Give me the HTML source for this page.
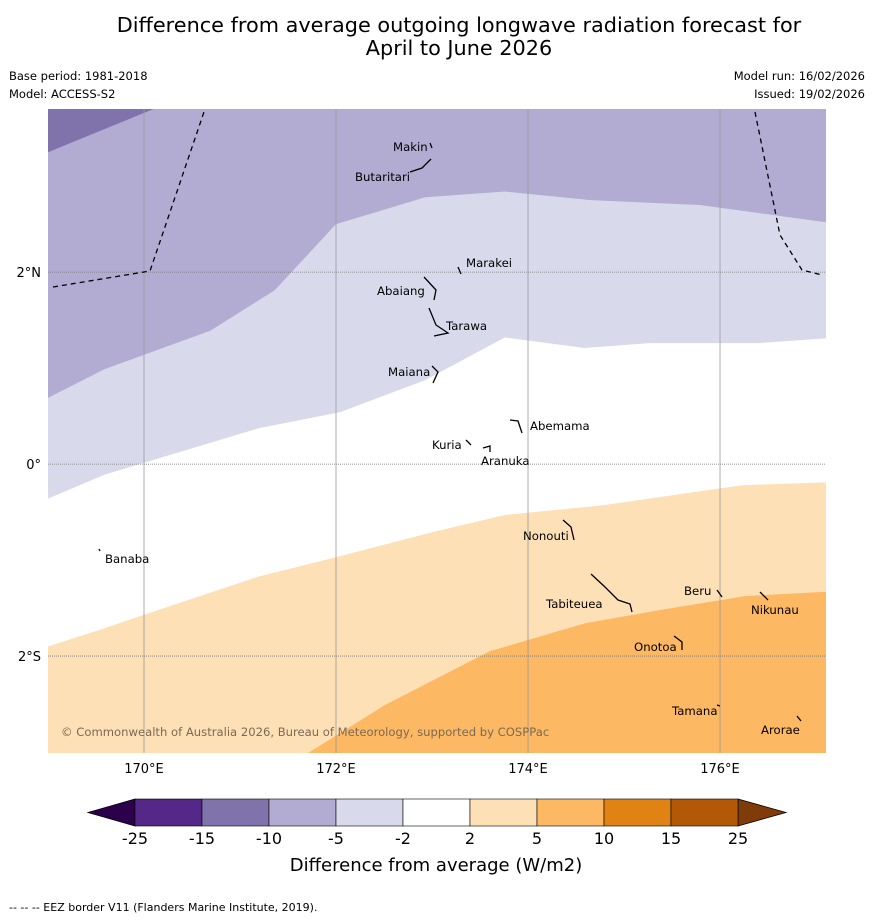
<!DOCTYPE html>
<html><head><meta charset="utf-8"><style>
body{margin:0;background:#fff;font-family:"Liberation Sans","DejaVu Sans",sans-serif;}
svg text{font-family:"DejaVu Sans","Liberation Sans",sans-serif;}
</style></head><body>
<svg id="c" width="873" height="919" xmlns="http://www.w3.org/2000/svg">
<text x="459" y="32" font-size="20.8" text-anchor="middle">Difference from average outgoing longwave radiation forecast for</text>
<text x="459" y="55" font-size="20.8" text-anchor="middle">April to June 2026</text>
<text x="9" y="80" font-size="11.5">Base period: 1981-2018</text>
<text x="9" y="98" font-size="11.5">Model: ACCESS-S2</text>
<text x="865" y="80" font-size="11.5" text-anchor="end">Model run: 16/02/2026</text>
<text x="865" y="98" font-size="11.5" text-anchor="end">Issued: 19/02/2026</text>
<g id="map"></g>
<g id="cb"></g>
<text x="436" y="871" font-size="18" text-anchor="middle">Difference from average (W/m2)</text>
<text x="9" y="911" font-size="11">--  --  -- EEZ border V11 (Flanders Marine Institute, 2019).</text>
</svg>
<script>
const lonMin=169, lonMax=177.104, latMax=3.7, latMin=-3.01;
const X0=48,X1=826,Y0=109,Y1=753;
const xs=lon=>X0+(lon-lonMin)/(lonMax-lonMin)*(X1-X0);
const ys=lat=>Y0+(latMax-lat)/(latMax-latMin)*(Y1-Y0);
const NS="http://www.w3.org/2000/svg";
const levels=[-25,-15,-10,-5,-2,2,5,10,15,25];
const colors=["#542788","#8073ac","#b2abd2","#d8daeb","#ffffff","#fee0b6","#fdb863","#e08214","#b35806"];
// contour boundaries (lon arrays, lat arrays)
const b15Lon=[169,170.1];const b15Lat=[3.25,3.7];
const b5Lon=[169,169.59,170.69,171.36,172,172.93,173.76,174.65,175.79,177.104];
const b5Lat=[0.69,0.99,1.39,1.81,2.5,2.78,2.84,2.75,2.7,2.52];
const b2Lon=[169,169.59,171.2,172.04,172.93,173.76,174.59,175.26,176.4,177.104];
const b2Lat=[-0.36,-0.11,0.375,0.54,0.875,1.32,1.21,1.26,1.26,1.31];
const p2Lon=[169,169.59,170.06,171.2,172.04,173.0,173.76,174.77,176.23,177.104];
const p2Lat=[-1.9,-1.71,-1.55,-1.17,-0.96,-0.71,-0.53,-0.43,-0.22,-0.19];
const p5Lon=[171.71,172.51,173.6,174.59,175.375,176.26,177.104];
const p5Lat=[-3.01,-2.51,-1.95,-1.66,-1.52,-1.375,-1.33];
const m=document.getElementById('map');
function el(tag,attrs,parent){const e=document.createElementNS(NS,tag);for(const k in attrs)e.setAttribute(k,attrs[k]);(parent||m).appendChild(e);return e;}
function pts(lo,la){return lo.map((v,i)=>xs(v)+','+ys(la[i])).join(' ');}
let e;
e=el('rect',{x:X0,y:Y0,width:X1-X0,height:Y1-Y0,fill:colors[4]});

e=el('polygon',{points:pts(b2Lon,b2Lat)+` ${X1},${Y0} ${X0},${Y0}`,fill:colors[3]});

e=el('polygon',{points:pts(b5Lon,b5Lat)+` ${X1},${Y0} ${X0},${Y0}`,fill:colors[2]});

e=el('polygon',{points:pts(b15Lon,b15Lat)+` ${X0},${Y0}`,fill:colors[1]});

e=el('polygon',{points:pts(p2Lon,p2Lat)+` ${X1},${Y1} ${X0},${Y1}`,fill:colors[5]});

e=el('polygon',{points:pts(p5Lon,p5Lat)+` ${X1},${Y1}`,fill:colors[6]});

// grid
const lonTicks=[170,172,174,176];const latTicks=[2,0,-2];const latLabels=["2°N","0°","2°S"];
lonTicks.forEach(l=>{e=el('line',{x1:xs(l),x2:xs(l),y1:Y0,y2:Y1,stroke:'#999',"stroke-width":0.8});

e=el('text',{x:xs(l),y:Y1+20,"font-size":13,"text-anchor":"middle"});e.textContent=l+'°E';
});
latTicks.forEach((l,i)=>{e=el('line',{x1:X0,x2:X1,y1:ys(l),y2:ys(l),stroke:'#777',"stroke-width":0.8,"stroke-dasharray":"1,1"});

e=el('text',{x:X0-7,y:ys(l)+5,"font-size":13,"text-anchor":"end"});e.textContent=latLabels[i];
});
// EEZ
e=el('polyline',{points:"53,287 150,271 205,109",fill:"none",stroke:"#000","stroke-width":1.3,"stroke-dasharray":"5,4"});

e=el('polyline',{points:"755,112 780,235 802,270 822,275",fill:"none",stroke:"#000","stroke-width":1.3,"stroke-dasharray":"5,4"});

// islands
const islands=[["Makin",393,151,"430,143 432,148"],["Butaritari",355,181,"410,172 422,168 431,159"],["Marakei",466,267,"458,267 461,274"],["Abaiang",377,295,"424,277 436,290 434,300"],["Tarawa",446,330,"429,308 436,325 448,333 434,336"],["Maiana",388,376,"432,366 438,372 433,383"],["Abemama",530,430,"510,420 518,421 522,433"],["Kuria",432,449,"466,440 471,445"],["Aranuka",481,465,"483,448 490,446 490,452"],["Banaba",105,563,"99,549 100,551"],["Nonouti",523,540,"563,520 571,527 574,540"],["Tabiteuea",546,608,"591,574 605,587 610,592 618,600 630,604 632,612"],["Beru",684,595,"717,590 722,597"],["Nikunau",751,614,"760,592 768,600"],["Onotoa",634,651,"674,636 682,642 682,650"],["Tamana",672,715,"717,705 720,706"],["Arorae",761,734,"797,716 801,721"]];
islands.forEach(d=>{
e=el('polyline',{points:d[3],fill:"none",stroke:"#000","stroke-width":1.3});

e=el('text',{x:d[1],y:d[2],"font-size":11.7});e.textContent=d[0];
});
e=el('text',{x:61,y:736,"font-size":11.6,fill:"#7a6a55"});e.textContent="© Commonwealth of Australia 2026, Bureau of Meteorology, supported by COSPPac";

// colorbar
const cb=document.getElementById('cb');const cx0=135,cx1=738,cy0=799,cy1=826;const w=(cx1-cx0)/9;
e=el('polygon',{points:`${cx0},${cy0} ${cx0},${cy1} 88,812.5`,fill:"#2d004b",stroke:"#000","stroke-width":0.8},cb);

e=el('polygon',{points:`${cx1},${cy0} ${cx1},${cy1} 786,812.5`,fill:"#7f3b08",stroke:"#000","stroke-width":0.8},cb);

colors.forEach((c,i)=>{e=el('rect',{x:cx0+i*w,y:cy0,width:w,height:cy1-cy0,fill:c,stroke:"#000","stroke-width":0.6},cb);
});
levels.forEach((l,i)=>{e=el('text',{x:cx0+i*w,y:844,"font-size":16,"text-anchor":"middle"},cb);e.textContent=l;
});
</script>
</body></html>
